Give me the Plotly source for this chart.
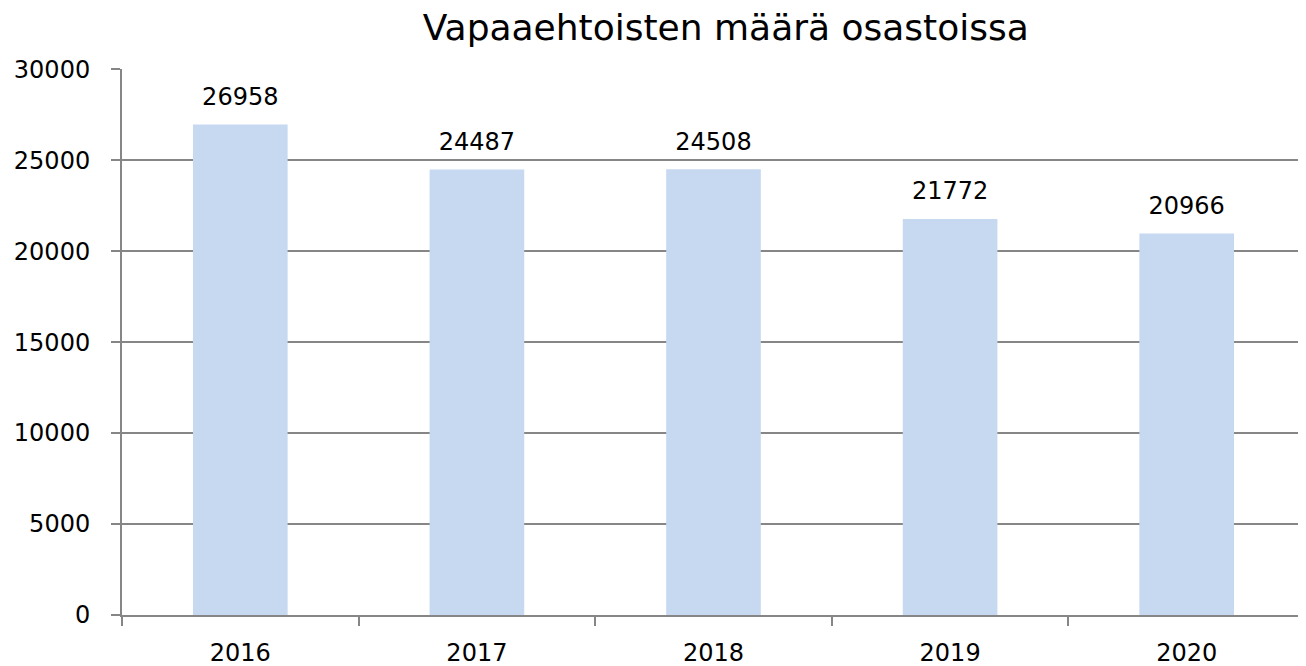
import plotly.graph_objects as go

years = ["2016", "2017", "2018", "2019", "2020"]
volunteers = [26958, 24487, 24508, 21772, 20966]
y_ticks = [0, 5000, 10000, 15000, 20000, 25000, 30000]
title_text = "Vapaaehtoisten määrä osastoissa"

FONT = "DejaVu Sans"
GRID = "#868686"

fig = go.Figure(go.Bar(
    x=years, y=volunteers, width=0.4,
    marker=dict(color="#c6d9f1", line=dict(width=0)),
    hoverinfo="x+y",
))

# data labels above the bars
fig.add_trace(go.Scatter(
    x=years, y=volunteers, mode="markers+text",
    text=[str(v) for v in volunteers], textposition="top center",
    marker=dict(size=20, opacity=0),
    textfont=dict(family=FONT, size=24, color="#000000"),
    hoverinfo="skip", cliponaxis=False,
))

fig.update_layout(
    width=1298, height=658,
    margin=dict(l=114, r=1, t=61, b=51, autoexpand=False),
    paper_bgcolor="white", plot_bgcolor="white",
    showlegend=False,
    title=dict(text=title_text, x=0.553, xanchor="center", y=0.97, yanchor="middle",
               font=dict(family=FONT, size=36, color="#000000")),
    font=dict(family=FONT, size=24, color="#000000"),
)
fig.update_xaxes(
    type="category", tickson="boundaries", ticks="outside", ticklen=9, tickcolor=GRID,
    tickwidth=2, showline=True, linecolor=GRID, linewidth=2, showgrid=False,
    automargin=False, ticklabelstandoff=15,
    tickfont=dict(family=FONT, size=24, color="#000000"),
)
fig.update_yaxes(
    range=[0, 30015], tickvals=y_ticks, ticktext=[str(v) for v in y_ticks],
    ticks="outside", ticklen=9, tickcolor=GRID, tickwidth=2,
    showline=True, linecolor=GRID, linewidth=2,
    showgrid=True, gridcolor=GRID, gridwidth=2, zeroline=False,
    automargin=False, ticklabelstandoff=16,
    tickfont=dict(family=FONT, size=24, color="#000000"),
)

fig.write_html("out.html")
